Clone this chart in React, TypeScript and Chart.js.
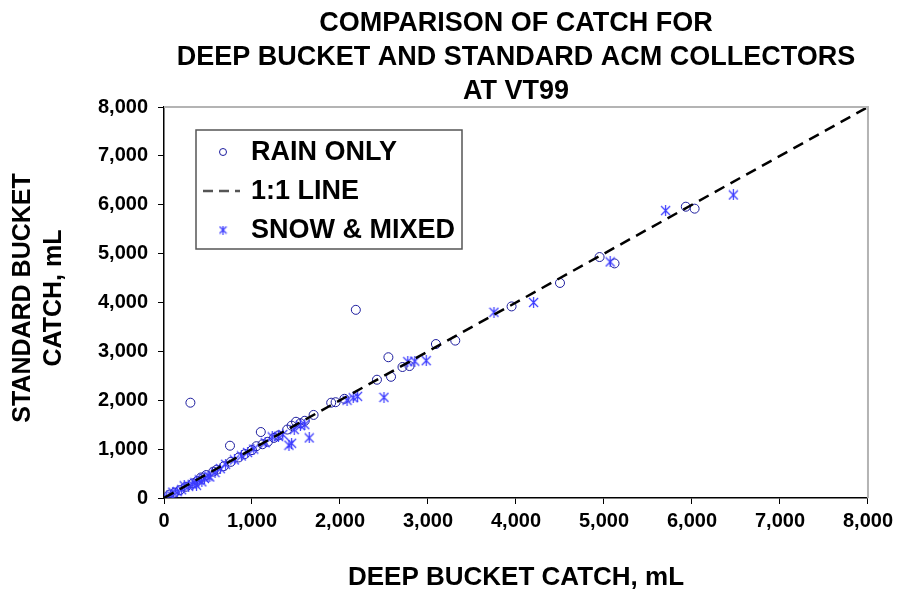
import React, { useEffect, useRef } from "react";
import { Chart, registerables } from "chart.js";

Chart.register(...registerables);

const TITLE_LINES = ["COMPARISON OF CATCH FOR", "DEEP BUCKET AND STANDARD ACM COLLECTORS", "AT VT99"];
const X_TITLE = "DEEP BUCKET CATCH, mL";
const Y_TITLE_LINES = ["STANDARD BUCKET", "CATCH, mL"];
const LEGEND_LABELS = ["RAIN ONLY", "1:1 LINE", "SNOW & MIXED"];

const rainX = [60, 120, 180, 250, 300, 330, 380, 420, 480, 560, 600, 680, 750, 760, 850, 920, 1000, 1050, 1100, 1120, 1180, 1250, 1300, 1400, 1450, 1500, 1550, 1600, 1700, 1900, 1950, 2050, 2180, 2420, 2550, 2580, 2710, 2790, 3090, 3310, 3950, 4500, 4950, 5120, 5930, 6030];
const rainY = [70, 110, 160, 230, 1950, 300, 350, 420, 470, 540, 580, 650, 1070, 740, 830, 900, 980, 1060, 1350, 1100, 1150, 1230, 1280, 1400, 1480, 1560, 1530, 1580, 1700, 1950, 1960, 2030, 3850, 2420, 2880, 2480, 2680, 2700, 3150, 3220, 3920, 4400, 4930, 4800, 5960, 5920];

const snowX = [30, 80, 100, 150, 200, 230, 280, 320, 350, 370, 400, 430, 460, 500, 520, 580, 640, 700, 800, 880, 950, 1020, 1150, 1230, 1300, 1350, 1420, 1450, 1480, 1550, 1600, 1650, 2080, 2150, 2200, 2500, 2770, 2850, 2980, 3750, 4200, 5070, 5700, 6470];
const snowY = [20, 60, 120, 130, 170, 250, 240, 280, 310, 260, 370, 330, 400, 450, 430, 520, 600, 690, 780, 860, 930, 1000, 1130, 1250, 1260, 1300, 1080, 1120, 1400, 1480, 1500, 1230, 2000, 2050, 2080, 2060, 2790, 2800, 2810, 3800, 4000, 4830, 5880, 6200];

const lineX = [0, 8000];
const lineY = [0, 8000];

const RAIN_COLOR = "#1c1c9e";
const SNOW_COLOR = "#3a3aff";
const FONT = '"Liberation Sans", Arial, Helvetica, sans-serif';

function makeStar(color: string, size: number) {
  const c = document.createElement("canvas");
  c.width = size;
  c.height = size;
  const g = c.getContext("2d")!;
  g.strokeStyle = color;
  g.lineWidth = 1.2;
  const m = 1;
  g.beginPath();
  g.moveTo(m, m);
  g.lineTo(size - m, size - m);
  g.moveTo(size - m, m);
  g.lineTo(m, size - m);
  g.moveTo(size / 2, 0);
  g.lineTo(size / 2, size);
  g.stroke();
  return c;
}

const decorPlugin = {
  id: "decor",
  afterDraw(chart: any) {
    const ctx = chart.ctx as CanvasRenderingContext2D;
    const a = chart.chartArea;
    ctx.save();
    // top & right frame
    ctx.strokeStyle = "#b4b4b4";
    ctx.lineWidth = 2;
    ctx.beginPath();
    ctx.moveTo(a.left, a.top);
    ctx.lineTo(a.right, a.top);
    ctx.lineTo(a.right, a.bottom);
    ctx.stroke();

    // title
    ctx.fillStyle = "#000";
    ctx.textAlign = "center";
    ctx.textBaseline = "middle";
    ctx.font = `bold 27px ${FONT}`;
    const cx = (a.left + a.right) / 2;
    const ty = [24, 58, 92];
    TITLE_LINES.forEach((t, i) => ctx.fillText(t, cx, ty[i]));

    // x title
    ctx.font = `bold 26px ${FONT}`;
    ctx.fillText(X_TITLE, cx, 578);

    // y title
    ctx.font = `bold 25px ${FONT}`;
    const cy = 298;
    const yx = [23, 54];
    Y_TITLE_LINES.forEach((t, i) => {
      ctx.save();
      ctx.translate(yx[i], cy);
      ctx.rotate(-Math.PI / 2);
      ctx.fillText(t, 0, 0);
      ctx.restore();
    });

    // legend
    const lx = 196, ly = 130, lw = 266, lh = 119;
    ctx.fillStyle = "#fff";
    ctx.fillRect(lx, ly, lw, lh);
    ctx.strokeStyle = "#555";
    ctx.lineWidth = 1.5;
    ctx.strokeRect(lx, ly, lw, lh);
    const rows = [152, 191, 230];
    ctx.fillStyle = "#000";
    ctx.textAlign = "left";
    ctx.font = `bold 27px ${FONT}`;
    LEGEND_LABELS.forEach((t, i) => ctx.fillText(t, 251, rows[i] + 1));
    // markers
    ctx.strokeStyle = RAIN_COLOR;
    ctx.lineWidth = 1;
    ctx.beginPath();
    ctx.arc(223, rows[0], 3.5, 0, Math.PI * 2);
    ctx.stroke();
    ctx.strokeStyle = "#555";
    ctx.lineWidth = 2.5;
    ctx.setLineDash([10, 6]);
    ctx.beginPath();
    ctx.moveTo(203, rows[1]);
    ctx.lineTo(240, rows[1]);
    ctx.stroke();
    ctx.setLineDash([]);
    const star = makeStar(SNOW_COLOR, 9);
    ctx.drawImage(star, 223 - 4.5, rows[2] - 4.5);
    ctx.restore();
  },
};

export default function App() {
  const ref = useRef<HTMLCanvasElement | null>(null);
  useEffect(() => {
    if (!ref.current) return;
    const starImg = makeStar(SNOW_COLOR, 11);
    const chart = new Chart(ref.current, {
      type: "scatter",
      data: {
        datasets: [
          {
            label: LEGEND_LABELS[0],
            data: rainX.map((x, i) => ({ x, y: rainY[i] })),
            pointStyle: "circle",
            pointRadius: 4.5,
            borderColor: RAIN_COLOR,
            backgroundColor: "rgba(0,0,0,0)",
            borderWidth: 1,
            order: 2,
          },
          {
            label: LEGEND_LABELS[2],
            data: snowX.map((x, i) => ({ x, y: snowY[i] })),
            pointStyle: starImg as any,
            pointRadius: 5,
            borderColor: SNOW_COLOR,
            backgroundColor: SNOW_COLOR,
            order: 1,
          },
          {
            type: "line" as any,
            label: LEGEND_LABELS[1],
            data: lineX.map((x, i) => ({ x, y: lineY[i] })),
            borderColor: "#000",
            borderWidth: 2.5,
            borderDash: [11, 7],
            pointRadius: 0,
            showLine: true,
            fill: false,
            order: 0,
          },
        ],
      },
      options: {
        animation: false,
        responsive: false,
        layout: { padding: { top: 107, right: 30, left: 0, bottom: 0 } },
        plugins: {
          legend: { display: false },
          title: { display: false },
          tooltip: { enabled: false },
        },
        scales: {
          x: {
            type: "linear",
            min: 0,
            max: 8000,
            afterFit: (s: any) => {
              s.height = 91;
            },
            ticks: {
              stepSize: 1000,
              padding: 5,
              color: "#000",
              font: { family: FONT, size: 20, weight: "bold" },
              callback: (v: any) => Number(v).toLocaleString("en-US"),
              maxRotation: 0,
            },
            grid: { drawOnChartArea: false, drawTicks: true, tickLength: 6, color: "#000" },
            border: { display: true, color: "#000", width: 1.5 },
          },
          y: {
            type: "linear",
            min: 0,
            max: 8000,
            afterFit: (s: any) => {
              s.width = 164;
            },
            ticks: {
              stepSize: 1000,
              padding: 10,
              color: "#000",
              font: { family: FONT, size: 20, weight: "bold" },
              callback: (v: any) => Number(v).toLocaleString("en-US"),
            },
            grid: { drawOnChartArea: false, drawTicks: true, tickLength: 6, color: "#000" },
            border: { display: true, color: "#000", width: 1.5 },
          },
        },
      },
      plugins: [decorPlugin],
    });
    return () => chart.destroy();
  }, []);
  return (
    <div style={{ position: "absolute", left: 0, top: 0, width: 898, height: 589, background: "#fff" }}>
      <canvas ref={ref} width={898} height={589} />
    </div>
  );
}
